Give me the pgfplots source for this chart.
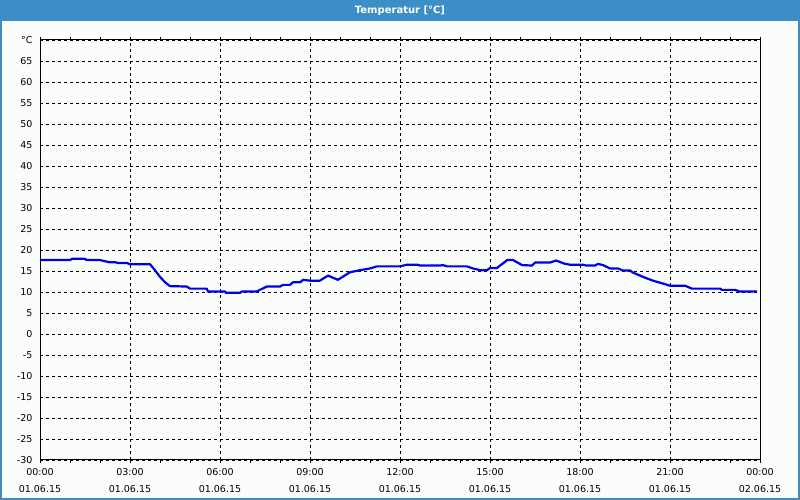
\documentclass[border=0pt]{standalone}
\usepackage{fontspec}
\setmainfont{DejaVu Sans}
\usepackage{pgfplots}
\pgfplotsset{compat=1.18}
\definecolor{barblue}{RGB}{60,143,198}
\definecolor{bgwhite}{RGB}{251,253,251}
\definecolor{lineblue}{RGB}{0,0,235}

\begin{document}
\begin{tikzpicture}[x=1pt,y=1pt]
% Rahmen und Titelleiste
\useasboundingbox (0,0) rectangle (800,500);
\fill[bgwhite] (0,0) rectangle (800,500);
\fill[barblue] (0,479) rectangle (800,500);
\draw[barblue, line width=2pt] (1,1) rectangle (799,499);
\node[white, font=\bfseries\fontsize{10}{12}\selectfont] at (400,489.5) {Temperatur [°C]};

\begin{axis}[
    at={(40pt,40pt)}, anchor=south west,
    scale only axis, width=720pt, height=420pt,
    xmin=0, xmax=24, ymin=-30, ymax=70,
    axis line style={black, line width=1pt},
    xtick={0,3,...,24},
    minor xtick={1,2,4,5,7,8,10,11,13,14,16,17,19,20,22,23},
    xticklabels={{00:00\\01.06.15},{03:00\\01.06.15},{06:00\\01.06.15},
                 {09:00\\01.06.15},{12:00\\01.06.15},{15:00\\01.06.15},
                 {18:00\\01.06.15},{21:00\\01.06.15},{00:00\\02.06.15}},
    ytick={-30,-25,...,70},
    yticklabels={-30,-25,-20,-15,-10,-5,0,5,10,15,20,25,30,35,40,45,50,55,60,65,°C},
    tick align=outside,
    major tick length=3pt, minor tick length=3pt,
    xtick style={black, line width=0.8pt},
    ytick style={draw=none},
    xmajorgrids, ymajorgrids,
    major grid style={black, line width=0.8pt, dash pattern=on 3pt off 3pt},
    xticklabel style={align=center, font=\fontsize{9.5}{17}\selectfont, yshift=-2pt},
    yticklabel style={font=\fontsize{9.5}{11}\selectfont, xshift=-1pt},
    clip=true,
]
\addplot[lineblue, line width=2.2pt, line join=round] coordinates {
(0,17.6) (1.0,17.6) (1.07,17.9) (1.5,17.9) (1.55,17.6) (2.0,17.6) (2.3,17.1)
(2.5,17.1) (2.6,16.9) (2.9,16.9) (3.0,16.6) (3.67,16.6) (3.83,15.2) (4.0,13.6)
(4.17,12.3) (4.33,11.4) (4.89,11.3) (5.0,10.8) (5.56,10.8) (5.6,10.1) (6.17,10.1)
(6.2,9.8) (6.67,9.8) (6.72,10.1) (7.22,10.1) (7.33,10.5) (7.56,11.3) (8.0,11.3)
(8.1,11.7) (8.33,11.7) (8.43,12.3) (8.67,12.3) (8.77,12.9) (9.0,12.7) (9.33,12.7)
(9.6,13.9) (9.93,12.9) (10.33,14.7) (10.67,15.2) (11.0,15.6) (11.23,16.1) (12.0,16.1)
(12.23,16.5) (12.57,16.5) (12.67,16.3) (13.33,16.3) (13.43,16.4) (13.57,16.1) (14.23,16.1)
(14.43,15.6) (14.67,15.2) (14.9,15.2) (15.0,15.7) (15.23,15.7) (15.43,16.8) (15.57,17.6)
(15.77,17.6) (16.07,16.4) (16.4,16.3) (16.5,17.0) (17.0,17.0) (17.2,17.5) (17.5,16.7)
(17.67,16.5) (18.1,16.5) (18.2,16.3) (18.5,16.3) (18.6,16.7) (18.77,16.4) (19.0,15.6)
(19.27,15.6) (19.43,15.1) (19.67,15.1) (19.77,14.6) (20.1,13.6) (20.43,12.7) (20.77,12.0)
(21.0,11.5) (21.5,11.5) (21.73,10.8) (22.67,10.8) (22.73,10.5) (23.17,10.5) (23.33,10.1)
(23.9,10.1)
};
\end{axis}
\end{tikzpicture}
\end{document}
